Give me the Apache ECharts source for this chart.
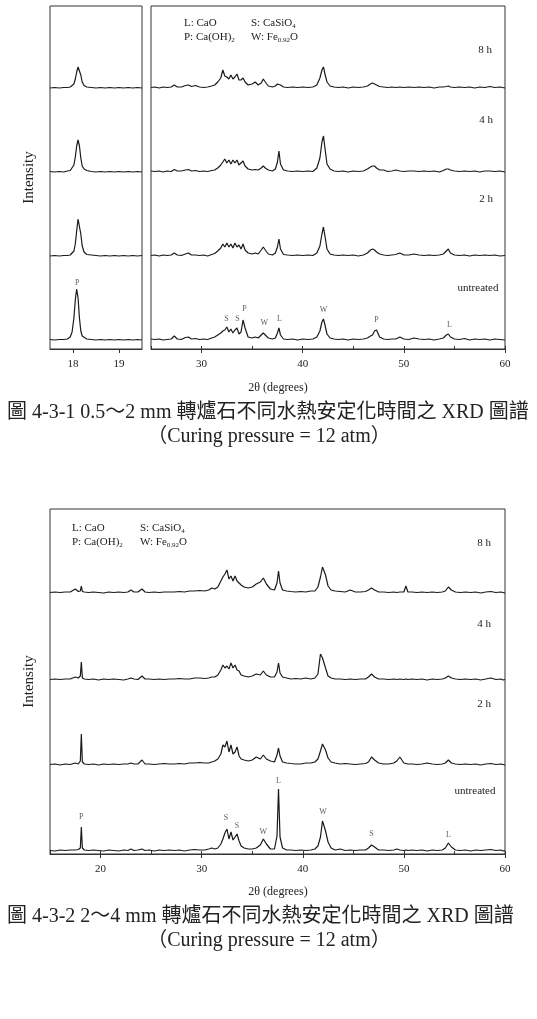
<!DOCTYPE html>
<html>
<head>
<meta charset="utf-8">
<script src="https://cdn.jsdelivr.net/npm/echarts@6/dist/echarts.min.js"></script>
<style>
html,body{margin:0;padding:0;background:#fff}
#chart{width:537px;height:1019px}
</style>
</head>
<body>
<div id="chart"></div>
<script>
// 樣品順序: untreated, 2 h, 4 h, 8 h
var SAMPLES = ['untreated', '2 h', '4 h', '8 h'];
// 各條譜線的基線位移 (堆疊用)
var OFFSETS_TOP = [9, 93, 177, 261];
var OFFSETS_BOT = [3, 89, 174, 261];

// 圖 4-3-1 左側小窗 (17.5~19.5)
var TL_X = [17.5, 17.6, 17.7, 17.8, 17.88, 17.94, 17.98, 18.02, 18.05, 18.08,
  18.11, 18.14, 18.17, 18.2, 18.24, 18.3, 18.4, 18.5, 18.6, 18.7,
  18.8, 18.9, 19.0, 19.1, 19.2, 19.3, 19.4, 19.5];
var TL_UNTREATED = [0.5, 0, 0.5, 0.5, 1, 3, 8, 22, 40, 51,
  42, 22, 9, 4, 2, 1, 0.5, 0, 0.5, 0,
  0.5, 0, 0.5, 0, 0.5, 0, 0.5, 0];
var TL_2H = [0, 0.5, 0, 0.5, 0.5, 1, 2, 5, 12, 25,
  37, 38, 22, 10, 4, 1.5, 1, 0.5, 0, 0.5,
  0, 0.5, 0, 0.5, 0, 0.5, 0, 0.5];
var TL_4H = [0.5, 0, 0.5, 0, 1, 1.5, 3, 7, 15, 26,
  32, 26, 14, 6, 3, 1.5, 0.5, 0, 0.5, 0,
  0.5, 0, 0.5, 0, 0.5, 0, 0.5, 0];
var TL_8H = [0, 0.5, 0, 0.5, 0.5, 1, 2, 4, 9, 16,
  21, 21, 13, 6, 2.5, 1, 0.5, 0, 0.5, 0,
  0.5, 0, 0.5, 0, 0.5, 0, 0.5, 0];

// 圖 4-3-1 右側 (25~60)
var TR_X = [25, 25.4, 25.8, 26.2, 26.6, 27.0, 27.3, 27.6, 28.0, 28.4,
  28.7, 29.0, 29.4, 29.8, 30.2, 30.6, 31.0, 31.3, 31.6, 31.9,
  32.1, 32.3, 32.5, 32.7, 32.9, 33.1, 33.3, 33.5, 33.7, 33.9,
  34.1, 34.3, 34.6, 35.0, 35.3, 35.6, 35.9, 36.1, 36.3, 36.6,
  37.0, 37.3, 37.5, 37.65, 37.8, 38.1, 38.5, 39.0, 39.5, 40.0,
  40.5, 41.0, 41.4, 41.7, 41.9, 42.05, 42.2, 42.4, 42.7, 43.1,
  43.5, 44.0, 44.5, 45.0, 45.5, 46.0, 46.4, 46.7, 46.9, 47.1,
  47.3, 47.6, 48.0, 48.4, 48.8, 49.2, 49.6, 50.0, 50.5, 51.0,
  51.5, 52.0, 52.5, 53.0, 53.5, 53.9, 54.2, 54.4, 54.6, 55.0,
  55.5, 56.0, 56.5, 57.0, 57.5, 58.0, 58.5, 59.0, 59.5, 60.0];
var TR_UNTREATED = [1, 0.5, 1, 0, 0.5, 1, 4, 1, 0.5, 2.5,
  3, 1, 1.5, 0.5, 1, 0.5, 2, 3, 5, 7,
  9, 10, 13, 8, 11, 7, 10, 12, 6, 8,
  20, 12, 3, 2, 3, 2, 5, 7, 5, 2,
  1, 2, 7, 12, 5, 1, 0.5, 1, 0, 1,
  0.5, 1, 3, 9, 18, 21, 15, 6, 2, 1,
  0.5, 1, 0, 1, 0.5, 1, 2, 4, 5, 9,
  10, 3, 1, 0.5, 1, 1, 3, 1, 0.5, 2,
  1, 0.5, 1, 0, 1, 2, 5, 6, 3, 1,
  0.5, 1.5, 0, 1, 0.5, 1, 0, 1, 0.5, 0];
var TR_2H = [0.5, 1, 0, 1, 0.5, 1, 3, 1, 0.5, 2,
  3, 1, 1, 0.5, 1, 0, 1.5, 2.5, 5, 8,
  12, 9, 13, 9, 12, 8, 13, 9, 11, 7,
  12, 6, 3, 2, 3, 2, 6, 9, 6, 2,
  1, 3, 9, 17, 7, 1.5, 1, 0.5, 1, 0.5,
  1, 0.5, 3, 10, 22, 29, 20, 7, 2, 1,
  0.5, 1, 0.5, 1, 0, 1, 3, 6, 7, 6,
  4, 2, 1, 0.5, 1, 1.5, 3, 1, 1, 2,
  1, 0.5, 1, 0.5, 1, 2, 5, 7, 3, 1,
  0.5, 1, 0, 1, 0.5, 1, 0.5, 1, 0, 0.5];
var TR_4H = [1, 0.5, 1, 0, 1, 0.5, 2.5, 1, 1, 2,
  2.5, 1, 1.5, 0.5, 1, 0.5, 1.5, 2, 4, 7,
  10, 13, 9, 12, 8, 12, 9, 12, 7, 9,
  11, 6, 3, 2, 2.5, 2, 4, 6, 4, 2,
  1, 3, 10, 21, 8, 2, 1, 0.5, 1, 0.5,
  1, 0.5, 4, 14, 30, 36, 24, 8, 3, 1,
  0.5, 1, 0, 1, 0.5, 1, 3, 5, 6, 6,
  4, 2, 2, 0.5, 1, 2, 1, 0.5, 1, 1,
  0.5, 1, 0.5, 1, 0, 1.5, 3, 3, 2, 1,
  0.5, 1, 0.5, 1, 0, 1, 1, 0.5, 1, 0];
var TR_8H = [0.5, 1, 0, 1, 0.5, 1, 3, 1, 1, 2.5,
  3, 1.5, 2.5, 1, 0.5, 1, 2, 3, 6, 10,
  18, 12, 11, 9, 13, 9, 11, 14, 8, 8,
  10, 6, 3, 4, 6, 3, 5, 9, 6, 2,
  1, 2, 4, 6, 3, 1, 0.5, 1, 0.5, 1,
  0.5, 1, 3, 10, 18, 21, 14, 6, 2, 1,
  0.5, 1, 0, 1, 0.5, 1, 2, 4, 5, 4,
  3, 1.5, 1, 0.5, 1, 0.5, 1, 0.5, 1, 0.5,
  1, 0.5, 1, 0, 1, 1, 1.5, 2, 1, 0.5,
  1, 0.5, 1, 0, 1, 0.5, 1.5, 0.5, 1, 0];

// 圖 4-3-2 (15~60)
var BT_X = [15, 15.5, 16, 16.5, 17, 17.5, 17.8, 18.0, 18.1, 18.2,
  18.4, 18.8, 19.3, 19.8, 20.3, 20.8, 21.3, 21.8, 22.3, 22.7,
  23.0, 23.3, 23.7, 24.1, 24.4, 24.8, 25.3, 25.8, 26.3, 26.8,
  27.3, 27.8, 28.3, 28.8, 29.3, 29.8, 30.3, 30.7, 31.0, 31.3,
  31.6, 31.9, 32.1, 32.3, 32.5, 32.7, 32.9, 33.1, 33.3, 33.5,
  33.7, 33.9, 34.2, 34.6, 35.0, 35.4, 35.8, 36.1, 36.4, 36.8,
  37.2, 37.45, 37.6, 37.75, 38.0, 38.4, 38.8, 39.3, 39.8, 40.3,
  40.8, 41.2, 41.5, 41.75, 41.95, 42.1, 42.25, 42.5, 42.8, 43.2,
  43.7, 44.2, 44.7, 45.2, 45.7, 46.2, 46.5, 46.8, 47.1, 47.5,
  48.0, 48.5, 49.0, 49.3, 49.6, 50.0, 50.2, 50.4, 50.8, 51.3,
  51.8, 52.3, 52.8, 53.3, 53.8, 54.1, 54.4, 54.7, 55.1, 55.6,
  56.1, 56.6, 57.1, 57.6, 58.1, 58.6, 59.1, 59.6, 59.8, 60.0];
var BT_UNTREATED = [0.5, 0, 1, 0.5, 1, 1, 1.5, 3, 24, 3,
  1, 0.5, 1, 0.5, 0, 1, 0.5, 0, 1, 0.5,
  2, 0.5, 1, 2, 0.5, 1, 0, 1, 0.5, 1,
  0.5, 1, 0, 1, 1.5, 1, 1, 2, 3, 2,
  3, 7, 12, 18, 22, 12, 19, 11, 14, 17,
  10, 5, 3, 2, 2, 3, 6, 12, 7, 2,
  2, 15, 62, 14, 3, 1, 1, 0.5, 1, 0.5,
  1, 2, 5, 14, 30, 31, 20, 9, 3, 1,
  2, 0.5, 1, 0.5, 1, 1, 3, 6, 4, 1,
  1, 0.5, 1, 2, 1, 0.5, 1, 0.5, 1, 0.5,
  1, 0, 1, 0.5, 1, 3, 8, 4, 1, 0.5,
  1, 0, 1, 0.5, 1, 1.5, 0.5, 1, 0, 0.5];
var BT_2H = [0.5, 1, 0, 1, 0.5, 2, 1, 4, 31, 3,
  1, 0.5, 1, 0, 1, 0.5, 1, 0.5, 1, 1,
  2, 1, 1, 5, 1, 1, 0.5, 1, 1.5, 1,
  1, 1.5, 1, 2, 2, 2.5, 2, 2, 3, 4,
  6, 11, 20, 18, 24, 13, 20, 11, 13, 18,
  9, 6, 5, 4, 5, 8, 6, 10, 6, 4,
  3, 10, 17, 9, 3, 2, 1.5, 1, 1, 2,
  2, 3, 6, 14, 21, 22, 15, 7, 3, 2,
  1, 1.5, 1, 0.5, 1, 1.5, 3, 8, 5, 2,
  1, 1, 2, 4, 8, 2, 1.5, 1, 1, 0.5,
  1, 2, 1, 0.5, 1, 2, 5, 2, 1, 0.5,
  1, 0.5, 1, 0, 1, 1.5, 0.5, 1, 0.5, 0];
var BT_4H = [0.5, 1, 0.5, 1, 1, 3, 2, 4, 18, 2,
  1, 0.5, 1, 0, 1, 0.5, 1, 0.5, 0, 1,
  2, 1, 0.5, 4, 1, 1, 0.5, 1, 0.5, 1,
  1, 1.5, 1, 1, 2, 2, 1.5, 2, 3, 3,
  5, 10, 15, 12, 14, 11, 17, 12, 15, 10,
  9, 5, 4, 3, 4, 6, 5, 9, 5, 3,
  3, 8, 17, 7, 3, 2, 1, 1.5, 1, 2,
  1, 2, 6, 26, 22, 24, 12, 4, 2, 1,
  1, 0.5, 1, 0.5, 1, 1, 3, 6, 3, 1,
  1, 0.5, 1, 0.5, 1, 0.5, 1, 0.5, 1, 0.5,
  1, 0, 1, 0.5, 1, 2, 4, 2, 1, 0.5,
  1, 0.5, 1, 0, 1, 2, 0.5, 1, 0, 0.5];
var BT_8H = [0.5, 1, 0.5, 1, 1, 4, 1.5, 2, 7, 1.5,
  1, 0.5, 1, 0.5, 0, 1, 0.5, 1, 0.5, 1,
  3, 1, 1, 4, 1, 0.5, 1, 0.5, 1, 1,
  1, 1.5, 1, 2, 2, 2.5, 2, 3, 5, 4,
  6, 12, 16, 19, 23, 14, 17, 12, 17, 12,
  10, 8, 6, 5, 6, 9, 11, 15, 9, 4,
  3, 10, 22, 10, 3, 2, 1.5, 1, 1.5, 1,
  2, 2, 6, 16, 26, 28, 18, 7, 3, 2,
  1.5, 1, 3, 1, 1, 1.5, 3, 5, 3, 1,
  1, 0.5, 1, 0.5, 1, 1, 7, 1, 1, 0.5,
  1, 0.5, 1, 0.5, 1, 2, 6, 3, 1, 0.5,
  1, 0.5, 1, 0, 1, 1.5, 0.5, 1, 0.5, 0];

// 峰的標記 [字母, 2θ, 高度(基線以上)]
var TL_PEAKS = [['P', 18.09, 57]];
var TR_PEAKS = [['S', 32.47, 21], ['S', 33.55, 21], ['P', 34.25, 31], ['W', 36.2, 17],
  ['L', 37.7, 21], ['W', 42.05, 30], ['P', 47.3, 20], ['L', 54.5, 15]];
var BT_PEAKS = [['P', 18.1, 34], ['S', 32.4, 33], ['S', 33.5, 25], ['W', 36.1, 19],
  ['L', 37.6, 70], ['W', 42.0, 39], ['S', 46.8, 17], ['L', 54.4, 16]];

var TICKS_TL = [18, 19];
var TICKS_TR = [30, 40, 50, 60];
var TICKS_BT = [20, 30, 40, 50, 60];

var SERIF = '"Liberation Serif", "Times New Roman", serif';
var CAP_FONT = '"Liberation Serif", "Noto Sans CJK TC", serif';
var INK = '#1a1a1a';

var chart = echarts.init(document.getElementById('chart'));

function trace(xs, ys, off) {
    return xs.map(function (x, i) { return [x, ys[i] + off]; });
}
function lineSeries(ai, data) {
    return {
        type: 'line', xAxisIndex: ai.x, yAxisIndex: ai.y, data: data,
        showSymbol: false, silent: true, animation: false,
        lineStyle: { color: INK, width: 1.2 }
    };
}
function peakSeries(ai, peaks, off) {
    return {
        type: 'scatter', xAxisIndex: ai.x, yAxisIndex: ai.y, silent: true, animation: false,
        symbolSize: 1, itemStyle: { color: 'transparent' },
        label: { show: true, position: 'inside', formatter: '{b}', fontFamily: SERIF, fontSize: 8, color: '#333' },
        data: peaks.map(function (p) { return { name: p[0], value: [p[1], p[2] + off] }; })
    };
}
function xMain(grid, min, max, ticks, margin) {
    return {
        type: 'value', gridIndex: grid, min: min, max: max, position: 'bottom',
        axisLine: { show: true, onZero: false, lineStyle: { color: '#333', width: 1 } },
        axisTick: { show: true, customValues: ticks, length: 4, lineStyle: { color: '#333' } },
        axisLabel: { customValues: ticks, fontFamily: SERIF, fontSize: 11, color: '#222', margin: margin },
        splitLine: { show: false }
    };
}
function xMinor(grid, min, max) {
    return {
        type: 'value', gridIndex: grid, min: min, max: max, interval: 5, position: 'bottom',
        axisLine: { show: false }, axisLabel: { show: false }, splitLine: { show: false },
        axisTick: { show: true, inside: true, length: 3, lineStyle: { color: '#333' } }
    };
}
function yAxis(grid, max, name) {
    return {
        type: 'value', gridIndex: grid, min: 0, max: max,
        name: name, nameLocation: 'middle', nameGap: 13, nameRotate: 90,
        nameTextStyle: { fontFamily: SERIF, fontSize: 15, color: '#222' },
        axisLine: { show: false }, axisTick: { show: false },
        axisLabel: { show: false }, splitLine: { show: false }
    };
}
function txt(x, y, text, size, align, font) {
    return {
        type: 'text', x: x, y: y, silent: true,
        style: {
            text: text, fontSize: size, fontFamily: font || SERIF, fill: '#222',
            align: align || 'left', verticalAlign: 'middle', lineHeight: 14,
            rich: { s: { fontSize: 7, fontFamily: SERIF, fill: '#222', verticalAlign: 'bottom', lineHeight: 8 } }
        }
    };
}

var grid = [
    { left: 50, top: 6, width: 92, height: 343 },
    { left: 151, top: 6, width: 354, height: 343 },
    { left: 50, top: 509, width: 455, height: 345 }
].map(function (g) {
    g.show = true; g.borderColor = '#333'; g.borderWidth = 1; g.containLabel = false;
    return g;
});

var A_TL = { x: 0, y: 0 }, A_TR = { x: 1, y: 1 }, A_BT = { x: 3, y: 2 };
var series = [];
[TL_UNTREATED, TL_2H, TL_4H, TL_8H].forEach(function (ys, i) {
    series.push(lineSeries(A_TL, trace(TL_X, ys, OFFSETS_TOP[i])));
});
[TR_UNTREATED, TR_2H, TR_4H, TR_8H].forEach(function (ys, i) {
    series.push(lineSeries(A_TR, trace(TR_X, ys, OFFSETS_TOP[i])));
});
[BT_UNTREATED, BT_2H, BT_4H, BT_8H].forEach(function (ys, i) {
    series.push(lineSeries(A_BT, trace(BT_X, ys, OFFSETS_BOT[i])));
});
series.push(peakSeries(A_TL, TL_PEAKS, OFFSETS_TOP[0]));
series.push(peakSeries(A_TR, TR_PEAKS, OFFSETS_TOP[0]));
series.push(peakSeries(A_BT, BT_PEAKS, OFFSETS_BOT[0]));

var graphic = [
    // 圖例文字
    txt(184, 23, 'L: CaO', 11), txt(184, 37, 'P: Ca(OH){s|2}', 11),
    txt(251, 23, 'S: CaSiO{s|4}', 11), txt(251, 37, 'W: Fe{s|0.92}O', 11),
    txt(72, 528, 'L: CaO', 11), txt(72, 542, 'P: Ca(OH){s|2}', 11),
    txt(140, 528, 'S: CaSiO{s|4}', 11), txt(140, 542, 'W: Fe{s|0.92}O', 11),
    // 樣品名稱
    txt(485, 50, SAMPLES[3], 11, 'center'), txt(486, 120, SAMPLES[2], 11, 'center'),
    txt(486, 199, SAMPLES[1], 11, 'center'), txt(478, 288, SAMPLES[0], 11, 'center'),
    txt(484, 543, SAMPLES[3], 11, 'center'), txt(484, 624, SAMPLES[2], 11, 'center'),
    txt(484, 704, SAMPLES[1], 11, 'center'), txt(475, 791, SAMPLES[0], 11, 'center'),
    // x 軸名稱
    txt(278, 388, '2θ (degrees)', 12, 'center'),
    txt(278, 892, '2θ (degrees)', 12, 'center'),
    // 圖說
    txt(7, 413, '圖 4-3-1 0.5～2 mm 轉爐石不同水熱安定化時間之 XRD 圖譜', 20, 'left', CAP_FONT),
    txt(269, 437, '（Curing pressure = 12 atm）', 20, 'center', CAP_FONT),
    txt(7, 917, '圖 4-3-2 2～4 mm 轉爐石不同水熱安定化時間之 XRD 圖譜', 20, 'left', CAP_FONT),
    txt(269, 941, '（Curing pressure = 12 atm）', 20, 'center', CAP_FONT)
];

chart.setOption({
    animation: false,
    backgroundColor: '#fff',
    grid: grid,
    xAxis: [
        xMain(0, 17.5, 19.5, TICKS_TL, 10),
        xMain(1, 25, 60, TICKS_TR, 10),
        xMinor(1, 25, 60),
        xMain(2, 15, 60, TICKS_BT, 10),
        xMinor(2, 15, 60)
    ],
    yAxis: [yAxis(0, 343, 'Intensity'), yAxis(1, 343, ''), yAxis(2, 345, 'Intensity')],
    series: series,
    graphic: graphic
});
</script>
</body>
</html>
